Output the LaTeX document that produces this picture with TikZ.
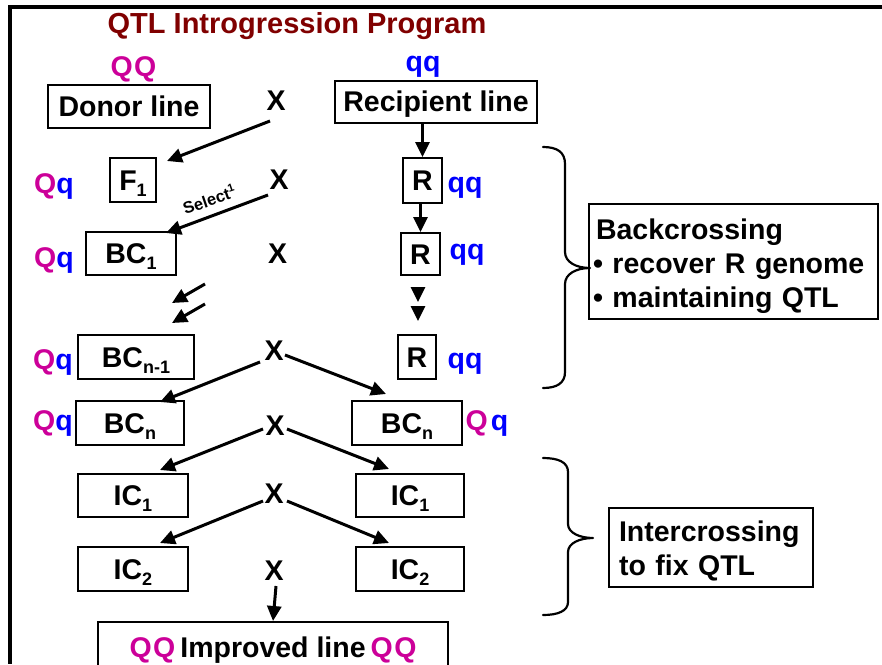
\documentclass[tikz,border=0pt]{standalone}
\usepackage{fontspec}
\setmainfont{Liberation Sans}
\usetikzlibrary{arrows.meta}
\definecolor{qmag}{RGB}{204,0,153}
\definecolor{qblue}{RGB}{0,0,255}
\definecolor{titlered}{RGB}{128,0,0}
% lowered index used in F1, BC1, ICn ...
\newcommand{\lowidx}[1]{\raisebox{-6pt}{\fontsize{18}{18}\selectfont #1}}
% genotype Qq: dominant allele in magenta, recessive in blue
\newcommand{\genoQq}{\textcolor{qmag}{Q}\textcolor{qblue}{q}}
\begin{document}
\begin{tikzpicture}[x=1pt, y=-1pt,
  font=\fontsize{28.5}{34}\selectfont\bfseries,
  gbox/.style={draw, line width=2pt, inner sep=0pt, text height=20.5pt, text depth=0pt},
  lbl/.style={anchor=base, inner sep=0pt},
  arr/.style={line width=3pt, -{Triangle[length=15pt,width=14pt]}},
  brace/.style={line width=2.2pt, line cap=round, line join=round}]
\useasboundingbox (0,0) rectangle (882,664);

% frame
\draw[line width=4pt] (8,7) -- (882,7);
\draw[line width=4pt] (10,5) -- (10,664);

% title
\node[lbl, font=\fontsize{29}{29}\selectfont\bfseries, text=titlered] (title) at (297,33) {QTL Introgression Program};

% parents
\node[lbl, text=qmag] (gQQ) at (133.5,76) {Q\hspace{1.5pt}Q};
\node[lbl, text=qblue] (gqq) at (423,71) {qq};
\node[gbox, minimum width=162, minimum height=43] (donor) at (129,106.5) {Donor line};
\node[gbox, minimum width=202, minimum height=42] (recip) at (436,101.5) {Recipient line};
\node[lbl] (x1) at (276,110) {X};

% F1 generation
\node[lbl] (g2) at (54,193) {\genoQq};
\node[gbox, minimum width=46, minimum height=44] (f1) at (133,180) {F\lowidx{1}};
\node[lbl] (x2) at (279,189) {X};
\node[gbox, minimum width=39, minimum height=45] (r1) at (422.5,180.5) {R};
\node[lbl, text=qblue] (q2) at (465,192) {qq};

% BC1
\node[lbl] (g3) at (54,267) {\genoQq};
\node[gbox, minimum width=90, minimum height=43] (bc1) at (131,253.5) {BC\lowidx{1}};
\node[lbl] (x3) at (277.5,263) {X};
\node[gbox, minimum width=39, minimum height=42] (r2) at (420.5,254) {R};
\node[lbl, text=qblue] (q3) at (467,259) {qq};

% BC(n-1)
\node[lbl] (g5) at (53,369) {\genoQq};
\node[gbox, minimum width=116, minimum height=44] (bcm) at (136,357) {BC\lowidx{n-1}};
\node[lbl] (x5) at (274,360) {X};
\node[gbox, minimum width=38, minimum height=44] (r3) at (417,357) {R};
\node[lbl, text=qblue] (q5) at (465,368) {qq};

% BCn
\node[lbl] (g6) at (53,430) {\genoQq};
\node[gbox, minimum width=108, minimum height=44] (bcl) at (130,423) {BC\lowidx{n}};
\node[lbl] (x6) at (275,435) {X};
\node[gbox, minimum width=110, minimum height=44] (bcr) at (407,423) {BC\lowidx{n}};
\node[lbl] (g6r) at (487,430) {\textcolor{qmag}{Q}\hspace{3pt}\textcolor{qblue}{q}};

% intercrossing
\node[gbox, minimum width=110, minimum height=43] (ic1l) at (133,495.5) {IC\lowidx{1}};
\node[lbl] (x7) at (274,503) {X};
\node[gbox, minimum width=108, minimum height=43] (ic1r) at (410,495.5) {IC\lowidx{1}};
\node[gbox, minimum width=110, minimum height=44] (ic2l) at (133,569) {IC\lowidx{2}};
\node[lbl] (x8) at (274,580) {X};
\node[gbox, minimum width=108, minimum height=44] (ic2r) at (410,569) {IC\lowidx{2}};
\node[gbox, minimum width=350, minimum height=50] (impr) at (273,647) {\textcolor{qmag}{Q\hspace{1.5pt}Q}\hspace{5pt}Improved line\hspace{5pt}\textcolor{qmag}{Q\hspace{1.5pt}Q}};

% side notes
\node[draw, line width=2pt, inner xsep=4pt, inner ysep=0pt, text width=281pt, minimum height=115, align=left] (back) at (733.5,261.5)
  {\rule{0pt}{31pt}\hspace{3pt}Backcrossing\\\textbullet\ recover R genome\\\textbullet\ maintaining QTL};
\node[draw, line width=2pt, inner xsep=10pt, inner ysep=0pt, text width=184pt, minimum height=79, align=left] (inter) at (711,547.5)
  {\rule{0pt}{28pt}Intercrossing\\to fix QTL};

% arrow end points
\coordinate (a1s) at (270,121);  \coordinate (a1e) at (167,161);
\coordinate (a2s) at (268,195);  \coordinate (a2e) at (166,233);
\coordinate (d1s) at (205,284);  \coordinate (d1e) at (172,303);
\coordinate (d2s) at (205,304);  \coordinate (d2e) at (172,323);
\coordinate (t1s) at (418,287);  \coordinate (t1e) at (418,302);
\coordinate (t2s) at (418,306);  \coordinate (t2e) at (418,321);
\coordinate (b1s) at (260,362);  \coordinate (b1e) at (160,402);
\coordinate (b2s) at (285,355);  \coordinate (b2e) at (386,394);
\coordinate (c1s) at (263,429);  \coordinate (c1e) at (160,470);
\coordinate (c2s) at (287,429);  \coordinate (c2e) at (389,469);
\coordinate (e1s) at (263,501);  \coordinate (e1e) at (160,543);
\coordinate (e2s) at (287,501);  \coordinate (e2e) at (389,543);
\coordinate (fs) at (276,586);

% arrows
\draw[arr] (a1s) -- (a1e);
\draw[arr] (a2s) -- (a2e);
\node[font=\fontsize{16.5}{16.5}\selectfont\bfseries, rotate=19, inner sep=0pt] (sel) at (209,199)
  {Select\raisebox{7pt}{\fontsize{11}{11}\selectfont 1}};
\draw[arr] (r1.north |- recip.south) -- (r1.north);
\draw[arr] (r2.north |- r1.south) -- (r2.north);
\draw[arr] (d1s) -- (d1e);
\draw[arr] (d2s) -- (d2e);
\draw[arr] (t1s) -- (t1e);
\draw[arr] (t2s) -- (t2e);
\draw[arr] (b1s) -- (b1e);
\draw[arr] (b2s) -- (b2e);
\draw[arr] (c1s) -- (c1e);
\draw[arr] (c2s) -- (c2e);
\draw[arr] (e1s) -- (e1e);
\draw[arr] (e2s) -- (e2e);
\draw[arr] (fs) -- (impr.north);

% braces
\coordinate (tip1) at (590,268);
\draw[brace] (543,147) .. controls (557,147) and (565,152) .. (565,164) -- (565,252)
  .. controls (565,262) and (576,268) .. (tip1)
  .. controls (576,268) and (565,274) .. (565,284) -- (565,372)
  .. controls (565,383) and (557,388) .. (543,388);
\coordinate (tip2) at (593,538);
\draw[brace] (543,458) .. controls (558,458) and (568,462) .. (568,472) -- (568,524)
  .. controls (568,533) and (580,538) .. (tip2)
  .. controls (580,538) and (568,543) .. (568,552) -- (568,602)
  .. controls (568,611) and (558,615) .. (543,615);
\end{tikzpicture}
\end{document}
